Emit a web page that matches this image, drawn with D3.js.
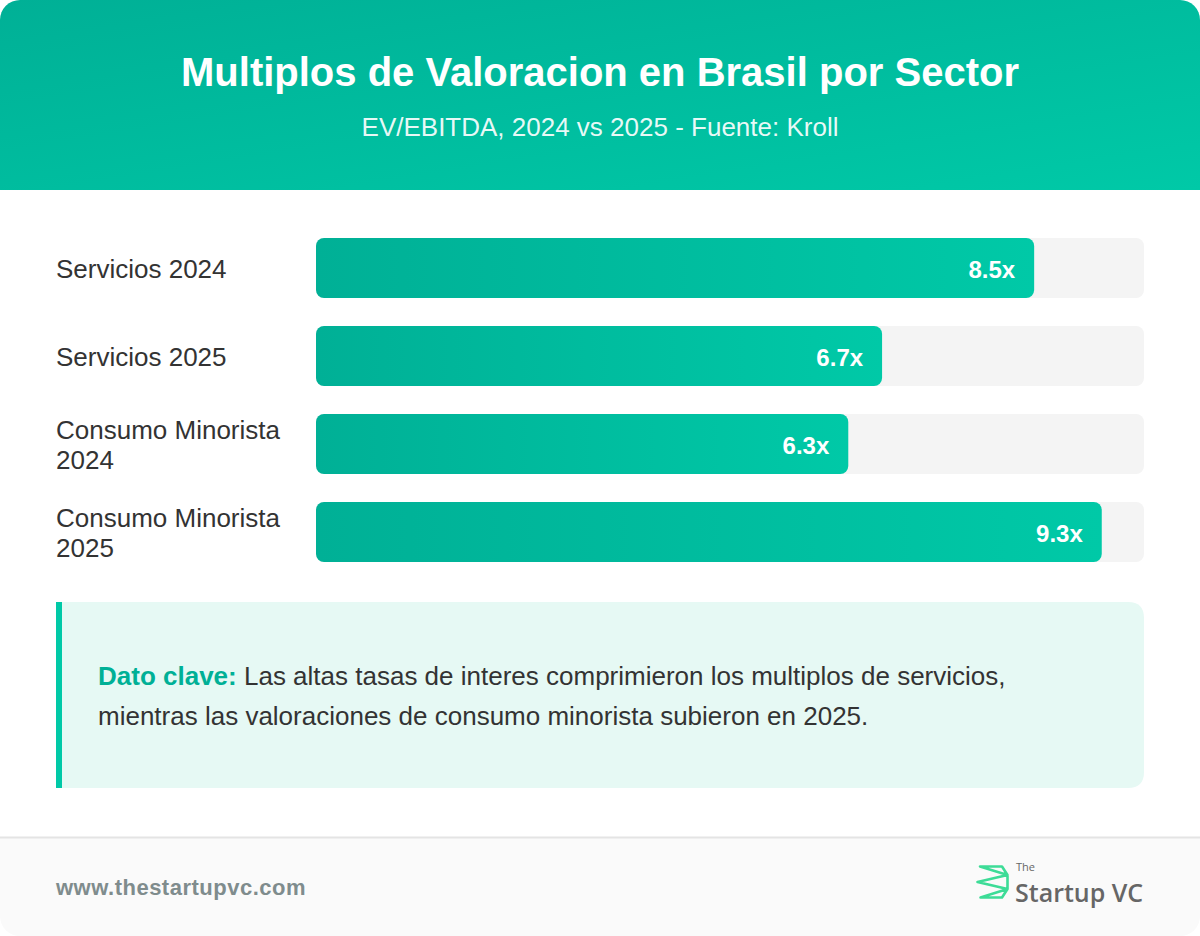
<!DOCTYPE html>
<html>
<head>
<meta charset="utf-8">
<script src="https://cdn.jsdelivr.net/npm/d3@7"></script>
<style>
  html, body { margin: 0; padding: 0; background: #ffffff; }
  svg { display: block; font-family: "Liberation Sans", Arial, Helvetica, sans-serif; }
</style>
</head>
<body>
<svg id="chart" width="1200" height="936"></svg>
<script>
// ---- data ----
const title = "Multiplos de Valoracion en Brasil por Sector";
const subtitle = "EV/EBITDA, 2024 vs 2025 - Fuente: Kroll";
const categories = ["Servicios 2024", "Servicios 2025", "Consumo Minorista 2024", "Consumo Minorista 2025"];
const values = [8.5, 6.7, 6.3, 9.3];
const valueLabels = ["8.5x", "6.7x", "6.3x", "9.3x"];
const scaleMax = 9.8;
const calloutLead = "Dato clave:";
const calloutLines = [
  " Las altas tasas de interes comprimieron los multiplos de servicios,",
  "mientras las valoraciones de consumo minorista subieron en 2025."
];
const footerUrl = "www.thestartupvc.com";

// ---- layout ----
const W = 1200, H = 936;
const svg = d3.select("#chart");
const defs = svg.append("defs");

const hg = defs.append("linearGradient").attr("id", "hdr").attr("x1", "0%").attr("y1", "0%").attr("x2", "100%").attr("y2", "100%");
hg.append("stop").attr("offset", "0%").attr("stop-color", "#00b096");
hg.append("stop").attr("offset", "100%").attr("stop-color", "#00c9a7");

const bg = defs.append("linearGradient").attr("id", "bar").attr("x1", "0%").attr("y1", "0%").attr("x2", "100%").attr("y2", "0%");
bg.append("stop").attr("offset", "0%").attr("stop-color", "#00b096");
bg.append("stop").attr("offset", "100%").attr("stop-color", "#00c9a7");

defs.append("clipPath").attr("id", "card").append("rect")
  .attr("x", 0).attr("y", 0).attr("width", W).attr("height", H).attr("rx", 20).attr("ry", 20);

const card = svg.append("g").attr("clip-path", "url(#card)");
card.append("rect").attr("x", 0).attr("y", 0).attr("width", W).attr("height", H).attr("fill", "#ffffff");

// header
card.append("rect").attr("x", 0).attr("y", 0).attr("width", W).attr("height", 190).attr("fill", "url(#hdr)");
card.append("text").attr("x", W / 2).attr("y", 72).attr("text-anchor", "middle").attr("dominant-baseline", "central")
  .attr("fill", "#ffffff").attr("font-size", 40).attr("font-weight", "bold").text(title);
card.append("text").attr("x", W / 2).attr("y", 127).attr("text-anchor", "middle").attr("dominant-baseline", "central")
  .attr("fill", "#ffffff").attr("fill-opacity", 0.92).attr("font-size", 26).text(subtitle);

// bars
const trackX = 316, trackW = 828, barH = 60, rowStep = 88, firstY = 238;
const x = d3.scaleLinear().domain([0, scaleMax]).range([0, trackW]);
const yb = d3.scalePoint().domain(categories).range([firstY, firstY + rowStep * (categories.length - 1)]);

const rows = card.append("g").selectAll("g").data(categories).join("g")
  .attr("transform", d => `translate(0,${yb(d)})`);

rows.append("rect").attr("x", trackX).attr("y", 0).attr("width", trackW).attr("height", barH)
  .attr("rx", 8).attr("fill", "#f4f4f4");
rows.append("rect").attr("x", trackX).attr("y", 0).attr("width", (d, i) => x(values[i])).attr("height", barH)
  .attr("rx", 8).attr("fill", "url(#bar)");
rows.append("text").attr("x", (d, i) => trackX + x(values[i]) - 19).attr("y", barH / 2 + 1)
  .attr("text-anchor", "end").attr("dominant-baseline", "central")
  .attr("fill", "#ffffff").attr("font-size", 24).attr("font-weight", "bold")
  .text((d, i) => valueLabels[i]);

// category labels with wrapping
const labelMaxW = 240, lineH = 30;
rows.each(function (d) {
  const g = d3.select(this);
  const t = g.append("text").attr("x", 56).attr("fill", "#333333").attr("font-size", 26);
  const words = d.split(" ");
  const lines = [];
  let cur = [];
  const probe = t.append("tspan");
  words.forEach(w => {
    const test = cur.concat([w]).join(" ");
    probe.text(test);
    if (probe.node().getComputedTextLength() > labelMaxW && cur.length) {
      lines.push(cur.join(" "));
      cur = [w];
    } else cur.push(w);
  });
  lines.push(cur.join(" "));
  probe.remove();
  const start = barH / 2 + 1 - (lines.length - 1) * lineH / 2;
  lines.forEach((l, i) => {
    t.append("tspan").attr("x", 56).attr("y", start + i * lineH).attr("dominant-baseline", "central").text(l);
  });
});

// callout
const cx = 56, cy = 602, cw = 1088, ch = 186;
card.append("path")
  .attr("d", `M${cx},${cy} H${cx + cw - 16} Q${cx + cw},${cy} ${cx + cw},${cy + 16} V${cy + ch - 16} Q${cx + cw},${cy + ch} ${cx + cw - 16},${cy + ch} H${cx} Z`)
  .attr("fill", "#e6f9f4");
card.append("rect").attr("x", cx).attr("y", cy).attr("width", 6).attr("height", ch).attr("fill", "#00c9a7");
const ct = card.append("text").attr("font-size", 26).attr("fill", "#333333");
const l1 = ct.append("tspan").attr("x", 98).attr("y", 676).attr("dominant-baseline", "central");
l1.append("tspan").attr("font-weight", "bold").attr("fill", "#00b096").text(calloutLead);
l1.append("tspan").text(calloutLines[0]);
ct.append("tspan").attr("x", 98).attr("y", 716).attr("dominant-baseline", "central").text(calloutLines[1]);

// footer
card.append("rect").attr("x", 0).attr("y", 837).attr("width", W).attr("height", H - 837).attr("fill", "#fafafa");
card.append("line").attr("x1", 0).attr("x2", W).attr("y1", 837.5).attr("y2", 837.5).attr("stroke", "#e4e4e4").attr("stroke-width", 2);
card.append("text").attr("x", 56).attr("y", 887).attr("dominant-baseline", "central")
  .attr("fill", "#7f8c8d").attr("font-size", 22).attr("letter-spacing", 0.5).attr("font-weight", "bold").text(footerUrl);

// logo
const logo = card.append("g");
logo.append("path")
  .attr("d", "M980,866.5 H1002 L1007.5,875 Z M1007.5,875 L977.5,882 L1007.5,889 Z M1007.5,889 L1002,897.5 H980.5 Z")
  .attr("fill", "none").attr("stroke", "#3ddc97").attr("stroke-width", 2.6).attr("stroke-linejoin", "round").attr("stroke-linecap", "round");
logo.append("text").attr("x", 1016).attr("y", 866).attr("dominant-baseline", "central")
  .attr("fill", "#666666").attr("font-size", 11).attr("font-family", "'Open Sans', sans-serif").text("The");
logo.append("text").attr("x", 1015).attr("y", 892).attr("dominant-baseline", "central")
  .attr("fill", "#666666").attr("font-size", 25).attr("font-weight", 600).attr("font-family", "'Open Sans', sans-serif").text("Startup VC");
</script>
</body>
</html>
